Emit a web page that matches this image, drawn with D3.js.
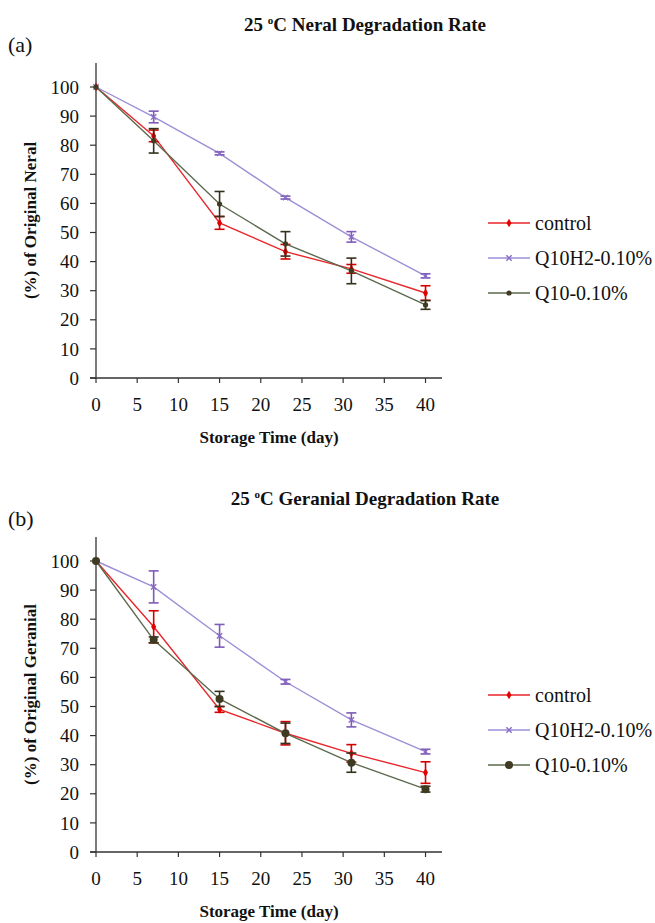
<!DOCTYPE html>
<html>
<head>
<meta charset="utf-8">
<script src="https://cdn.jsdelivr.net/npm/d3@7"></script>
<style>
  body { margin: 0; background: #fff; }
</style>
</head>
<body>
<svg id="fig" width="655" height="923"></svg>
<script>
// storage days
const days = [0, 7, 15, 23, 31, 40];
const xTicks = [0, 5, 10, 15, 20, 25, 30, 35, 40];
const yTicks = [0, 10, 20, 30, 40, 50, 60, 70, 80, 90, 100];
const seriesNames = ["control", "Q10H2-0.10%", "Q10-0.10%"];

// (a) neral, % of original
const neralControl = [100, 83.2, 53.3, 43.4, 37.5, 29.2];
const neralControlErr = [0, 2.0, 2.2, 2.5, 1.5, 2.5];
const neralQ10H2 = [100, 89.7, 77.2, 62.0, 48.5, 35.1];
const neralQ10H2Err = [0, 2.0, 0.5, 0.5, 1.8, 0.7];
const neralQ10 = [100, 81.5, 59.8, 46.1, 36.8, 25.1];
const neralQ10Err = [0, 4.2, 4.3, 4.2, 4.4, 1.5];

// (b) geranial, % of original
const geranialControl = [100, 77.4, 49.0, 40.8, 33.9, 27.3];
const geranialControlErr = [0, 5.5, 1.0, 4.0, 3.0, 3.7];
const geranialQ10H2 = [100, 91.1, 74.3, 58.5, 45.4, 34.5];
const geranialQ10H2Err = [0, 5.5, 3.9, 0.8, 2.4, 0.8];
const geranialQ10 = [100, 72.9, 52.6, 40.8, 30.7, 21.6];
const geranialQ10Err = [0, 1.0, 2.6, 3.5, 3.3, 1.0];

const styles = {
  "control":     { line: "#e8262b", mark: "#e00000", err: "#d40000", shape: "diamond" },
  "Q10H2-0.10%": { line: "#9d8fd6", mark: "#8a6cc6", err: "#7d5bb8", shape: "cross" },
  "Q10-0.10%":   { line: "#5b6a4e", mark: "#3f3a22", err: "#33301c", shape: "circle" }
};

const svg = d3.select("#fig");

// all text in Times-like serif
function txt(sel, size, bold) {
  return sel.style("font-family", "'Liberation Serif', serif").style("font-size", size + "px")
    .style("font-weight", bold ? "bold" : "normal").attr("fill", "#111");
}

function drawPanel(cfg) {
  const g = svg.append("g");
  const x = d3.scaleLinear().domain([0, 42]).range([96, 442]);
  const y = d3.scaleLinear().domain([0, 100]).range([cfg.y0, cfg.y0 - 291]);
  const yTop = cfg.y0 - 315;

  // panel letter + title
  txt(g.append("text"), 22, false).attr("x", 8).attr("y", cfg.y0 - 326).text(cfg.letter);
  txt(g.append("text"), 19, true).attr("x", 365).attr("y", cfg.y0 - 347)
    .attr("text-anchor", "middle")
    .html(cfg.titlePre + '<tspan dy="-7" style="font-size:11px">o</tspan><tspan dy="7">C ' + cfg.titleMain + '</tspan>');

  // axes
  g.append("line").attr("x1", x(0)).attr("x2", x(0)).attr("y1", yTop).attr("y2", cfg.y0)
    .attr("stroke", "#333").attr("stroke-width", 1.3);
  g.append("line").attr("x1", x(0) - 6).attr("x2", x(42)).attr("y1", cfg.y0).attr("y2", cfg.y0)
    .attr("stroke", "#333").attr("stroke-width", 1.3);

  g.selectAll(".yt").data(yTicks).join("line")
    .attr("x1", x(0) - 6).attr("x2", x(0)).attr("y1", d => y(d)).attr("y2", d => y(d))
    .attr("stroke", "#333").attr("stroke-width", 1.2);
  txt(g.selectAll(".yl").data(yTicks).join("text"), 19, false)
    .attr("x", x(0) - 17).attr("y", d => y(d)).attr("dy", "0.35em")
    .attr("text-anchor", "end").text(d => d);

  g.selectAll(".xt").data(xTicks).join("line")
    .attr("x1", d => x(d)).attr("x2", d => x(d)).attr("y1", cfg.y0).attr("y2", cfg.y0 + 5)
    .attr("stroke", "#333").attr("stroke-width", 1.2);
  txt(g.selectAll(".xl").data(xTicks).join("text"), 19, false)
    .attr("x", d => x(d)).attr("y", cfg.y0 + 33)
    .attr("text-anchor", "middle").text(d => d);

  txt(g.append("text"), 17, true).attr("x", (x(0) + x(42)) / 2).attr("y", cfg.y0 + 65)
    .attr("text-anchor", "middle").text("Storage Time (day)");
  txt(g.append("text"), 17, true)
    .attr("transform", `translate(36,${(yTop + cfg.y0) / 2}) rotate(-90)`)
    .attr("text-anchor", "middle").text(cfg.yLabel);

  const line = d3.line().x((d, i) => x(days[i])).y(d => y(d));

  cfg.series.forEach(s => {
    const st = styles[s.name];
    const sg = g.append("g");
    sg.append("path").datum(s.values).attr("d", line)
      .attr("fill", "none").attr("stroke", st.line).attr("stroke-width", 1.4);

    // error bars
    const eb = sg.selectAll(".eb").data(s.values.map((v, i) => ({ v, e: s.err[i], d: days[i] })).filter(p => p.e > 0))
      .join("g").attr("stroke", st.err).attr("stroke-width", 1.6);
    eb.append("line").attr("x1", p => x(p.d)).attr("x2", p => x(p.d))
      .attr("y1", p => y(p.v + p.e)).attr("y2", p => y(p.v - p.e));
    eb.append("line").attr("x1", p => x(p.d) - 5).attr("x2", p => x(p.d) + 5)
      .attr("y1", p => y(p.v + p.e)).attr("y2", p => y(p.v + p.e));
    eb.append("line").attr("x1", p => x(p.d) - 5).attr("x2", p => x(p.d) + 5)
      .attr("y1", p => y(p.v - p.e)).attr("y2", p => y(p.v - p.e));

    drawMarkers(sg, s.values.map((v, i) => [x(days[i]), y(v)]), st, cfg.bigDots);
  });

  // legend
  seriesNames.forEach((name, i) => {
    const st = styles[name];
    const ly = cfg.legendY + i * 35;
    const lg = g.append("g");
    lg.append("line").attr("x1", 488).attr("x2", 530).attr("y1", ly).attr("y2", ly)
      .attr("stroke", st.line).attr("stroke-width", 1.4);
    drawMarkers(lg, [[509, ly]], st, cfg.bigDots);
    txt(lg.append("text"), 20, false).attr("x", 535).attr("y", ly).attr("dy", "0.35em")
      .text(name);
  });
}

function drawMarkers(sel, pts, st, big) {
  if (st.shape === "diamond") {
    sel.selectAll(null).data(pts).join("path")
      .attr("d", d3.symbol(d3.symbolDiamond, 22))
      .attr("transform", p => `translate(${p[0]},${p[1]})`)
      .attr("fill", st.mark);
  } else if (st.shape === "cross") {
    sel.selectAll(null).data(pts).join("path")
      .attr("d", d3.symbol(d3.symbolX, 20))
      .attr("transform", p => `translate(${p[0]},${p[1]})`)
      .attr("stroke", st.mark).attr("stroke-width", 1.4).attr("fill", "none");
  } else {
    sel.selectAll(null).data(pts).join("circle")
      .attr("cx", p => p[0]).attr("cy", p => p[1]).attr("r", big ? 4 : 2.6)
      .attr("fill", st.mark);
  }
}

drawPanel({
  letter: "(a)", titlePre: "25 ", titleMain: "Neral Degradation Rate",
  yLabel: "(%) of Original Neral", y0: 378, legendY: 223, bigDots: false,
  series: [
    { name: "control", values: neralControl, err: neralControlErr },
    { name: "Q10H2-0.10%", values: neralQ10H2, err: neralQ10H2Err },
    { name: "Q10-0.10%", values: neralQ10, err: neralQ10Err }
  ]
});

drawPanel({
  letter: "(b)", titlePre: "25 ", titleMain: "Geranial Degradation Rate",
  yLabel: "(%) of Original Geranial", y0: 852, legendY: 695, bigDots: true,
  series: [
    { name: "control", values: geranialControl, err: geranialControlErr },
    { name: "Q10H2-0.10%", values: geranialQ10H2, err: geranialQ10H2Err },
    { name: "Q10-0.10%", values: geranialQ10, err: geranialQ10Err }
  ]
});
</script>
</body>
</html>
